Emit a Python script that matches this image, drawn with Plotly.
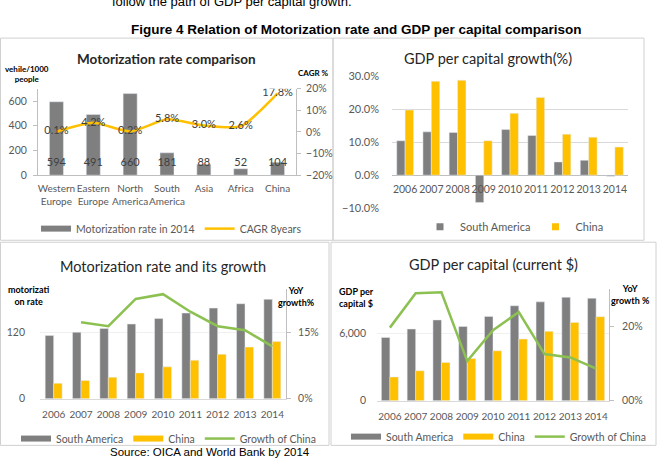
import plotly.graph_objects as go

# ---------------- data ----------------
regions = ["Western<br>Europe", "Eastern<br>Europe", "North<br>America", "South<br>America", "Asia", "Africa", "China"]
motor_2014 = [594, 491, 660, 181, 88, 52, 104]
cagr_8y = [0.001, 0.042, 0.002, 0.058, 0.030, 0.026, 0.178]

years = ["2006", "2007", "2008", "2009", "2010", "2011", "2012", "2013", "2014"]
gdp_growth_sa = [0.104, 0.131, 0.129, -0.083, 0.138, 0.120, 0.040, 0.045, -0.003]
gdp_growth_cn = [0.197, 0.284, 0.287, 0.104, 0.187, 0.235, 0.124, 0.115, 0.085]

motor_sa = [115, 121, 128, 136, 146, 156, 165, 173, 181]
motor_cn = [28, 33, 39, 47, 58, 70, 81, 94, 104]
motor_cn_growth = [None, 0.174, 0.165, 0.227, 0.238, 0.198, 0.165, 0.156, 0.119]

gdp_sa = [5650, 6410, 7220, 6640, 7540, 8490, 8840, 9250, 9160]
gdp_cn = [2120, 2670, 3420, 3770, 4460, 5510, 6200, 6990, 7510]
gdp_cn_growth = [0.196, 0.288, 0.291, 0.106, 0.189, 0.238, 0.125, 0.116, 0.086]

# ---------------- style ----------------
W, H = 663, 464
GRAY = "#7f7f7f"
YEL = "#FFC000"
GRN = "#8CC152"
TXT = "#595959"
DARK = "#262626"
FONT = "Lato"
BAR_LABEL_Y = 95  # vertical placement of in-bar labels (left-axis units)


def fx(p):
    return p / W


def fy(p):
    return 1 - p / H


fig = go.Figure()

# ---------- Panel 1: Motorization rate comparison ----------
fig.add_trace(go.Bar(x=regions, y=motor_2014, marker_color=GRAY, width=0.38,
                     xaxis="x", yaxis="y", showlegend=False))
fig.add_trace(go.Scatter(x=regions, y=[BAR_LABEL_Y] * len(regions), mode="text",
                         text=[str(v) for v in motor_2014],
                         textfont=dict(family=FONT, size=11, color="#404040"),
                         xaxis="x", yaxis="y", showlegend=False, hoverinfo="skip"))
fig.add_trace(go.Scatter(x=regions, y=cagr_8y, mode="lines+text",
                         line=dict(color=YEL, width=2.5, shape="spline", smoothing=0.6),
                         text=[f"{v*100:.1f}%" for v in cagr_8y], textposition="middle center",
                         textfont=dict(family=FONT, size=11, color="#404040"),
                         xaxis="x", yaxis="y2", showlegend=False))
fig.add_trace(go.Scatter(x=[None], y=[None], mode="lines", line=dict(color=GRAY, width=6),
                         name="Motorization rate in 2014", legend="legend", xaxis="x", yaxis="y"))
fig.add_trace(go.Scatter(x=[None], y=[None], mode="lines", line=dict(color=YEL, width=2.5),
                         name="CAGR 8years", legend="legend", xaxis="x", yaxis="y"))

# ---------- Panel 2: GDP per capital growth ----------
fig.add_trace(go.Bar(x=years, y=gdp_growth_sa, marker_color=GRAY, width=0.32, offset=-0.32,
                     xaxis="x2", yaxis="y3", showlegend=False))
fig.add_trace(go.Bar(x=years, y=gdp_growth_cn, marker_color=YEL, width=0.32, offset=0.0,
                     xaxis="x2", yaxis="y3", showlegend=False))
fig.add_trace(go.Scatter(x=[None], y=[None], mode="markers",
                         marker=dict(symbol="square", size=7, color=GRAY),
                         name="South America", legend="legend2", xaxis="x2", yaxis="y3"))
fig.add_trace(go.Scatter(x=[None], y=[None], mode="markers",
                         marker=dict(symbol="square", size=7, color=YEL),
                         name="China", legend="legend2", xaxis="x2", yaxis="y3"))

# ---------- Panel 3: Motorization rate and its growth ----------
fig.add_trace(go.Bar(x=years, y=motor_sa, marker_color=GRAY, width=0.31, offset=-0.31,
                     xaxis="x3", yaxis="y4", showlegend=False))
fig.add_trace(go.Bar(x=years, y=motor_cn, marker_color=YEL, width=0.31, offset=0.0,
                     xaxis="x3", yaxis="y4", showlegend=False))
fig.add_trace(go.Scatter(x=years, y=motor_cn_growth, mode="lines",
                         line=dict(color=GRN, width=2.5), xaxis="x3", yaxis="y5",
                         showlegend=False))
for nm, col, wd in [("South America", GRAY, 6), ("China", YEL, 6), ("Growth of China", GRN, 2.5)]:
    fig.add_trace(go.Scatter(x=[None], y=[None], mode="lines", line=dict(color=col, width=wd),
                             name=nm, legend="legend3", xaxis="x3", yaxis="y4"))

# ---------- Panel 4: GDP per capital (current $) ----------
fig.add_trace(go.Bar(x=years, y=gdp_sa, marker_color=GRAY, width=0.33, offset=-0.33,
                     xaxis="x4", yaxis="y6", showlegend=False))
fig.add_trace(go.Bar(x=years, y=gdp_cn, marker_color=YEL, width=0.33, offset=0.0,
                     xaxis="x4", yaxis="y6", showlegend=False))
fig.add_trace(go.Scatter(x=years, y=gdp_cn_growth, mode="lines",
                         line=dict(color=GRN, width=2.5), xaxis="x4", yaxis="y7",
                         showlegend=False))
for nm, col, wd in [("South America", GRAY, 6), ("China", YEL, 6), ("Growth of China", GRN, 2.5)]:
    fig.add_trace(go.Scatter(x=[None], y=[None], mode="lines", line=dict(color=col, width=wd),
                             name=nm, legend="legend4", xaxis="x4", yaxis="y6"))

# ---------------- layout ----------------
tick_s = dict(family=FONT, size=10, color=TXT)
tick_small = dict(family=FONT, size=10.5, color=TXT)


def leg(xp, yp, size=10.5):
    return dict(x=fx(xp), y=fy(yp), xanchor="left", yanchor="middle", orientation="h",
                bgcolor="rgba(0,0,0,0)", font=dict(family=FONT, size=size, color=TXT),
                itemwidth=30, itemclick=False, itemdoubleclick=False)


fig.update_layout(
    width=W, height=H, autosize=False,
    margin=dict(l=0, r=0, t=0, b=0),
    paper_bgcolor="white", plot_bgcolor="rgba(0,0,0,0)",
    barmode="overlay",
    font=dict(family=FONT, color=TXT),
    # panel 1
    xaxis=dict(domain=[fx(38), fx(296)], anchor="y", type="category", range=[-0.5, 6.5],
               showline=True, linecolor="#bfbfbf", ticks="", tickfont=tick_s, tickangle=0,
               ticklabelstandoff=4, showgrid=False, fixedrange=True),
    yaxis=dict(domain=[fy(173), fy(84)], anchor="x", range=[0, 700], tickvals=[0, 200, 400, 600],
               showline=True, linecolor="#bfbfbf", ticks="outside", ticklen=4, tickcolor="#bfbfbf",
               tickfont=tick_small, ticklabelstandoff=4, showgrid=False, zeroline=False),
    yaxis2=dict(overlaying="y", side="right", anchor="x", range=[-0.2, 0.2],
                tickvals=[-0.2, -0.1, 0, 0.1, 0.2], tickformat=".0%",
                showline=True, linecolor="#bfbfbf", ticks="outside", ticklen=4, tickcolor="#bfbfbf",
                tickfont=tick_small, ticklabelstandoff=3, showgrid=False, zeroline=False),
    # panel 2
    xaxis2=dict(domain=[fx(392), fx(628)], anchor="free", position=fy(173), type="category",
                range=[-0.5, 8.5], showline=False, ticks="", tickfont=tick_small, tickangle=0,
                ticklabelstandoff=6, showgrid=False),
    yaxis3=dict(domain=[fy(207), fy(71)], anchor="x2", range=[-0.1, 0.3],
                tickvals=[-0.1, 0, 0.1, 0.2, 0.3], tickformat=".1%",
                tickfont=dict(family=FONT, size=11, color=TXT),
                showline=False, ticks="", ticklabelstandoff=12, showgrid=True,
                gridcolor="#d9d9d9", gridwidth=1, zeroline=True, zerolinecolor="#bfbfbf",
                zerolinewidth=1),
    # panel 3
    xaxis3=dict(domain=[fx(40), fx(286)], anchor="y4", type="category", range=[-0.5, 8.5],
                showline=True, linecolor="#d9d9d9", ticks="", tickfont=tick_s, tickangle=0,
                ticklabelstandoff=6, showgrid=False),
    yaxis4=dict(domain=[fy(403), fy(290)], anchor="x3", range=[0, 200], tickvals=[0, 120],
                showline=False, ticks="", tickfont=tick_small, ticklabelstandoff=14,
                showgrid=True, gridcolor="#f0f0f0", zeroline=False),
    yaxis5=dict(overlaying="y4", side="right", anchor="x3", range=[0, 0.25],
                tickvals=[0, 0.15], tickformat=".0%", showline=True, linecolor="#bfbfbf",
                ticks="outside", ticklen=4, tickcolor="#bfbfbf", tickfont=tick_small,
                ticklabelstandoff=5, showgrid=False, zeroline=False),
    # panel 4
    xaxis4=dict(domain=[fx(377), fx(609)], anchor="y6", type="category", range=[-0.5, 8.5],
                showline=True, linecolor="#d9d9d9", ticks="", tickfont=tick_s, tickangle=0,
                ticklabelstandoff=6, showgrid=False),
    yaxis6=dict(domain=[fy(405), fy(290)], anchor="x4", range=[0, 10000], tickvals=[0, 6000],
                tickformat=",", showline=False, ticks="", tickfont=tick_small,
                ticklabelstandoff=10, showgrid=True, gridcolor="#f0f0f0", zeroline=False),
    yaxis7=dict(overlaying="y6", side="right", anchor="x4", range=[0, 0.3],
                tickvals=[0, 0.2], ticktext=["00%", "20%"], showline=True, linecolor="#bfbfbf",
                ticks="outside", ticklen=4, tickcolor="#bfbfbf", tickfont=tick_small,
                ticklabelstandoff=6, showgrid=False, zeroline=False),
    legend=leg(36, 228),
    legend2=leg(420, 226, 11),
    legend3=leg(16, 444),
    legend4=leg(346, 442),
)

# panel frames
frames = [(0.5, 32, 333, 240), (333, 32, 644, 240), (0.5, 242, 329, 451), (331, 242, 656, 451)]
for x0, y0, x1, y1 in frames:
    fig.add_shape(type="rect", xref="paper", yref="paper", x0=fx(x0), x1=fx(x1),
                  y0=fy(y1), y1=fy(y0), line=dict(color="#d0d0d0", width=1),
                  fillcolor="rgba(0,0,0,0)", layer="below")


def note(text, xp, yp, size, color=DARK, bold=False, xanchor="center", family=FONT, align="center"):
    fig.add_annotation(text=f"<b>{text}</b>" if bold else text, xref="paper", yref="paper",
                       x=fx(xp), y=fy(yp), xanchor=xanchor, yanchor="middle", showarrow=False,
                       align=align, font=dict(family=family, size=size, color=color))


# page texts
note("follow the path of GDP per capital growth.", 110, -6, 13, color="#000000",
     xanchor="left", family="Liberation Sans")
note("Figure 4 Relation of Motorization rate and GDP per capital comparison", 356, 23, 13.5,
     color="#000000", bold=True, family="Liberation Sans")
note("Source: OICA and World Bank by 2014", 210, 458, 11.5, color="#000000",
     family="Liberation Sans")

# chart titles
note("Motorization rate comparison", 166, 54, 13.5, bold=True)
note("GDP per capital growth(%)", 488, 53, 14.5)
note("Motorization rate and its growth", 163, 267, 14.5)
note("GDP per capital (current $)", 493, 265, 14.5)

# axis titles
note("vehile/1000<br>people", 27, 69, 8, color="#000000", bold=True)
note("CAGR %", 313, 68, 8, color="#000000", bold=True)
note("motorizati<br>on rate", 29, 297, 9, color="#000000", bold=True)
note("YoY<br>growth%", 296, 298, 9, color="#000000", bold=True)
note("GDP per<br>capital $", 337, 299, 9, color="#000000", bold=True, xanchor="left", align="left")
note("YoY<br>growth %", 630, 296, 9, color="#000000", bold=True)

fig.write_html("out.html")
